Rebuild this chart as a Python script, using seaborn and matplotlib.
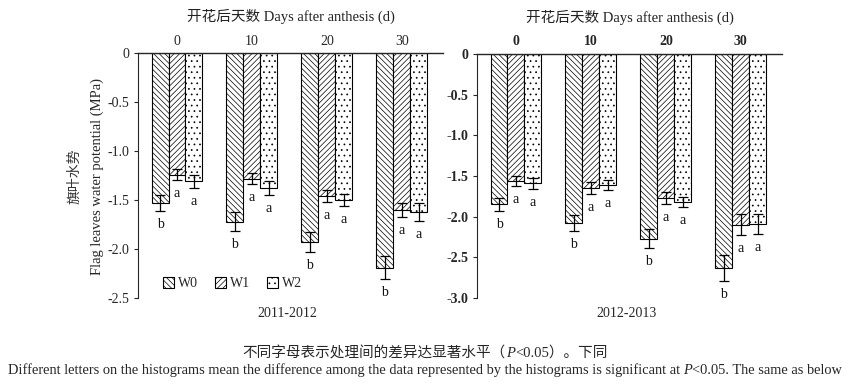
import matplotlib
matplotlib.use("Agg")
import matplotlib.pyplot as plt
import matplotlib.patches as mpatches
import numpy as np
import pandas as pd
import seaborn as sns

# ---- data ----
DAYS = ["0", "10", "20", "30"]
TREATMENTS = ["W0", "W1", "W2"]

# 2011-2012 season
W0_2011 = [-1.53, -1.72, -1.93, -2.19]
W1_2011 = [-1.24, -1.28, -1.46, -1.60]
W2_2011 = [-1.31, -1.38, -1.50, -1.62]
W0_2011_ERR = [0.08, 0.10, 0.10, 0.12]
W1_2011_ERR = [0.06, 0.06, 0.06, 0.07]
W2_2011_ERR = [0.07, 0.07, 0.06, 0.09]

# 2012-2013 season
W0_2012 = [-1.85, -2.08, -2.27, -2.63]
W1_2012 = [-1.56, -1.65, -1.77, -2.10]
W2_2012 = [-1.59, -1.61, -1.82, -2.09]
W0_2012_ERR = [0.08, 0.10, 0.12, 0.16]
W1_2012_ERR = [0.06, 0.07, 0.07, 0.13]
W2_2012_ERR = [0.07, 0.06, 0.06, 0.12]

LETTERS_W0 = ["b", "b", "b", "b"]
LETTERS_W1 = ["a", "a", "a", "a"]
LETTERS_W2 = ["a", "a", "a", "a"]

YTICKS_2011 = [0, -0.5, -1.0, -1.5, -2.0, -2.5]
YTICKS_2012 = [0, -0.5, -1.0, -1.5, -2.0, -2.5, -3.0]
YTICK_LABELS_2011 = ["0", "-0.5", "-1.0", "-1.5", "-2.0", "-2.5"]
YTICK_LABELS_2012 = ["0", "-0.5", "-1.0", "-1.5", "-2.0", "-2.5", "-3.0"]

HATCHES = {"W0": "\\\\\\\\\\\\", "W1": "//////", "W2": "..."}

sns.set_style("ticks")
FONTS = ["Liberation Serif", "Noto Sans CJK SC", "DejaVu Sans"]
plt.rcParams["font.family"] = FONTS
plt.rcParams["axes.unicode_minus"] = False
plt.rcParams["hatch.linewidth"] = 0.5
plt.rcParams["hatch.color"] = "#444444"


def make_frame(w0, w1, w2):
    rows = []
    for tr, vals in zip(TREATMENTS, [w0, w1, w2]):
        for d, v in zip(DAYS, vals):
            rows.append({"day": d, "treat": tr, "value": v})
    return pd.DataFrame(rows)


def draw_panel(ax, df, errs, letters, yticks, ylabels, season, bold=False):
    weight = "bold" if bold else "normal"
    sns.barplot(data=df, x="day", y="value", hue="treat", order=DAYS,
                hue_order=TREATMENTS, palette=["white"] * 3, edgecolor="black",
                linewidth=0.8, width=0.68, errorbar=None, ax=ax, legend=False)
    for tr, cont, err, lett in zip(TREATMENTS, ax.containers, errs, letters):
        xs, ys = [], []
        for bar in cont:
            bar.set_hatch(HATCHES[tr])
            xs.append(bar.get_x() + bar.get_width() / 2)
            ys.append(bar.get_height())
        ax.errorbar(xs, ys, yerr=err, fmt="none", ecolor="black",
                    elinewidth=0.9, capsize=3.5, capthick=0.9)
        for x, y, e, l in zip(xs, ys, err, lett):
            ax.annotate(l, (x, y - e), xytext=(0, -5), textcoords="offset points",
                        ha="center", va="top", fontsize=10, color="#111111")

    ax.set_xlim(-0.52, 3.55)
    ax.set_ylim(yticks[-1], 0)
    ax.set_yticks(yticks)
    ax.set_yticklabels(ylabels, fontsize=10, fontweight=weight)
    ax.xaxis.tick_top()
    ax.xaxis.set_label_position("top")
    ax.tick_params(axis="x", length=0, pad=4, labelsize=10)
    for t in ax.get_xticklabels():
        t.set_fontweight(weight)
    ax.tick_params(axis="y", length=3, width=0.8, direction="out", pad=3)
    ax.set_xlabel("开花后天数 Days after anthesis (d)", fontsize=10.5,
                  color="#222222", labelpad=10)
    ax.set_ylabel("")
    ax.spines["bottom"].set_visible(False)
    ax.spines["right"].set_visible(False)
    ax.spines["top"].set_linewidth(1.0)
    ax.spines["left"].set_linewidth(0.8)
    ax.text(0.49, -0.035, season, transform=ax.transAxes, ha="center",
            va="top", fontsize=10)


def centered_pieces(fig, y, pieces, fontsize):
    """Place text pieces (text, style) side by side, centred on the figure."""
    renderer = fig.canvas.get_renderer()
    objs = []
    for txt, style in pieces:
        objs.append(fig.text(0, y, txt, fontsize=fontsize, style=style,
                             va="center", ha="left"))
    widths = [o.get_window_extent(renderer).width for o in objs]
    W = fig.bbox.width
    x = (W - sum(widths)) / 2
    for o, w in zip(objs, widths):
        o.set_x(x / W)
        x += w


fig = plt.figure(figsize=(8.5, 3.88), dpi=100)
ax1 = fig.add_axes([0.1624, 0.232, 0.3588, 0.631])
ax2 = fig.add_axes([0.5612, 0.232, 0.3588, 0.629])

draw_panel(ax1, make_frame(W0_2011, W1_2011, W2_2011),
           [W0_2011_ERR, W1_2011_ERR, W2_2011_ERR],
           [LETTERS_W0, LETTERS_W1, LETTERS_W2],
           YTICKS_2011, YTICK_LABELS_2011, "2011-2012")
draw_panel(ax2, make_frame(W0_2012, W1_2012, W2_2012),
           [W0_2012_ERR, W1_2012_ERR, W2_2012_ERR],
           [LETTERS_W0, LETTERS_W1, LETTERS_W2],
           YTICKS_2012, YTICK_LABELS_2012, "2012-2013", bold=True)

handles = [mpatches.Patch(facecolor="white", edgecolor="black", linewidth=0.8,
                          hatch=HATCHES[tr], label=tr) for tr in TREATMENTS]
ax1.legend(handles=handles, loc="lower left", bbox_to_anchor=(0.04, -0.02),
           ncol=3, frameon=False, fontsize=10, handlelength=0.8,
           handleheight=0.8, handletextpad=0.3, columnspacing=1.2)

fig.text(0.088, 0.545, "旗叶水势", rotation=90, ha="center", va="center",
         fontsize=10, color="#333333")
fig.text(0.114, 0.545, "Flag leaves water potential (MPa)", rotation=90,
         ha="center", va="center", fontsize=10.5)

centered_pieces(fig, 0.09, [("不同字母表示处理间的差异达显著水平（", "normal"),
                            ("P", "italic"), ("<0.05）。下同", "normal")], 10.5)
centered_pieces(fig, 0.045,
                [("Different letters on the histograms mean the difference among "
                  "the data represented by the histograms is significant at ", "normal"),
                 ("P", "italic"), ("<0.05. The same as below", "normal")], 10.4)

fig.savefig("out.png", dpi=100)
